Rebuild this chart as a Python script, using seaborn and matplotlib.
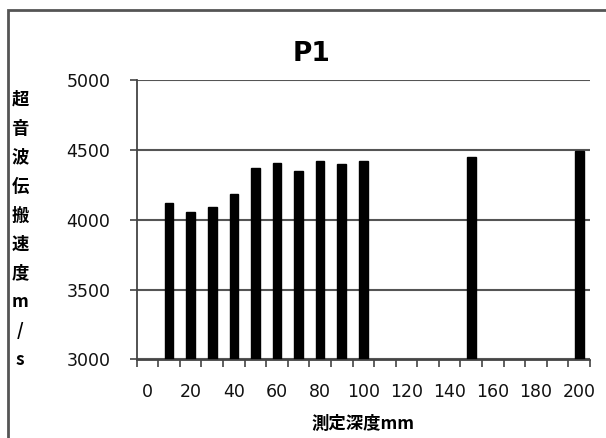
import pandas as pd
import matplotlib.pyplot as plt
import numpy as np
import seaborn as sns
from matplotlib.patches import Rectangle
from matplotlib.ticker import FixedLocator

depth = [10, 20, 30, 40, 50, 60, 70, 80, 90, 100, 150, 200]
speed = [4122, 4058, 4089, 4182, 4373, 4409, 4352, 4423, 4397, 4421, 4452, 4495]
y_label = "超音波伝搬速度m/s"
x_label = "測定深度mm"

df = pd.DataFrame({'depth': depth, 'speed': speed})

sns.set_style('white')
plt.rcParams['font.family'] = ['DejaVu Sans', 'Noto Sans CJK JP']
plt.rcParams['text.color'] = 'black'

fig = plt.figure(figsize=(6.06, 4.38), dpi=100)
ax = fig.add_axes([136.7/606, 1-359.5/438, (590-136.7)/606, (359.5-80)/438])

sns.barplot(data=df, x='depth', y='speed', native_scale=True, width=0.4,
            color='black', saturation=1, edgecolor='black', ax=ax)

ax.set_xlim(-5, 205)
ax.set_ylim(3000, 5000)
ax.set_yticks([3000, 3500, 4000, 4500, 5000])
ax.xaxis.set_major_locator(FixedLocator(np.arange(0, 201, 20)))
ax.xaxis.set_minor_locator(FixedLocator(np.arange(-5, 206, 10)))
ax.tick_params(bottom=True, left=True, which='both')
ax.tick_params(axis='x', which='major', length=0, pad=17, labelsize=12.5, labelcolor='#111111')
ax.tick_params(axis='x', which='minor', length=5, width=1.2, direction='out', color='#444444')
ax.tick_params(axis='y', length=5, width=1.2, direction='out', pad=14, labelsize=12.5,
               color='#444444', labelcolor='#111111')

ax.grid(axis='y', color='#555555', linewidth=1.5)
ax.set_axisbelow(True)
for side in ['top', 'right']:
    ax.spines[side].set_visible(False)
for side in ['left', 'bottom']:
    ax.spines[side].set_color('#444444')
    ax.spines[side].set_linewidth(1.3)

ax.set_xlabel('')
ax.set_ylabel('')

fig.text(312/606, 1-54/438, 'P1', fontsize=19, fontweight='bold', ha='center', va='center')
fig.text(363/606, 1-424/438, x_label, fontsize=12.5, fontweight='bold', ha='center', va='center',
         family=['Noto Sans CJK JP', 'DejaVu Sans'])
fig.text(20/606, 1-230/438, "\n".join(y_label), fontsize=12.5, fontweight='bold', ha='center',
         va='center', linespacing=1.78, family=['Noto Sans CJK JP', 'DejaVu Sans'])

fig.patches.append(Rectangle((8/606, -0.1), 1.2, 1.1 - 10/438, transform=fig.transFigure,
                             fill=False, edgecolor='#555555', linewidth=2))

fig.savefig('out.png', dpi=100)
